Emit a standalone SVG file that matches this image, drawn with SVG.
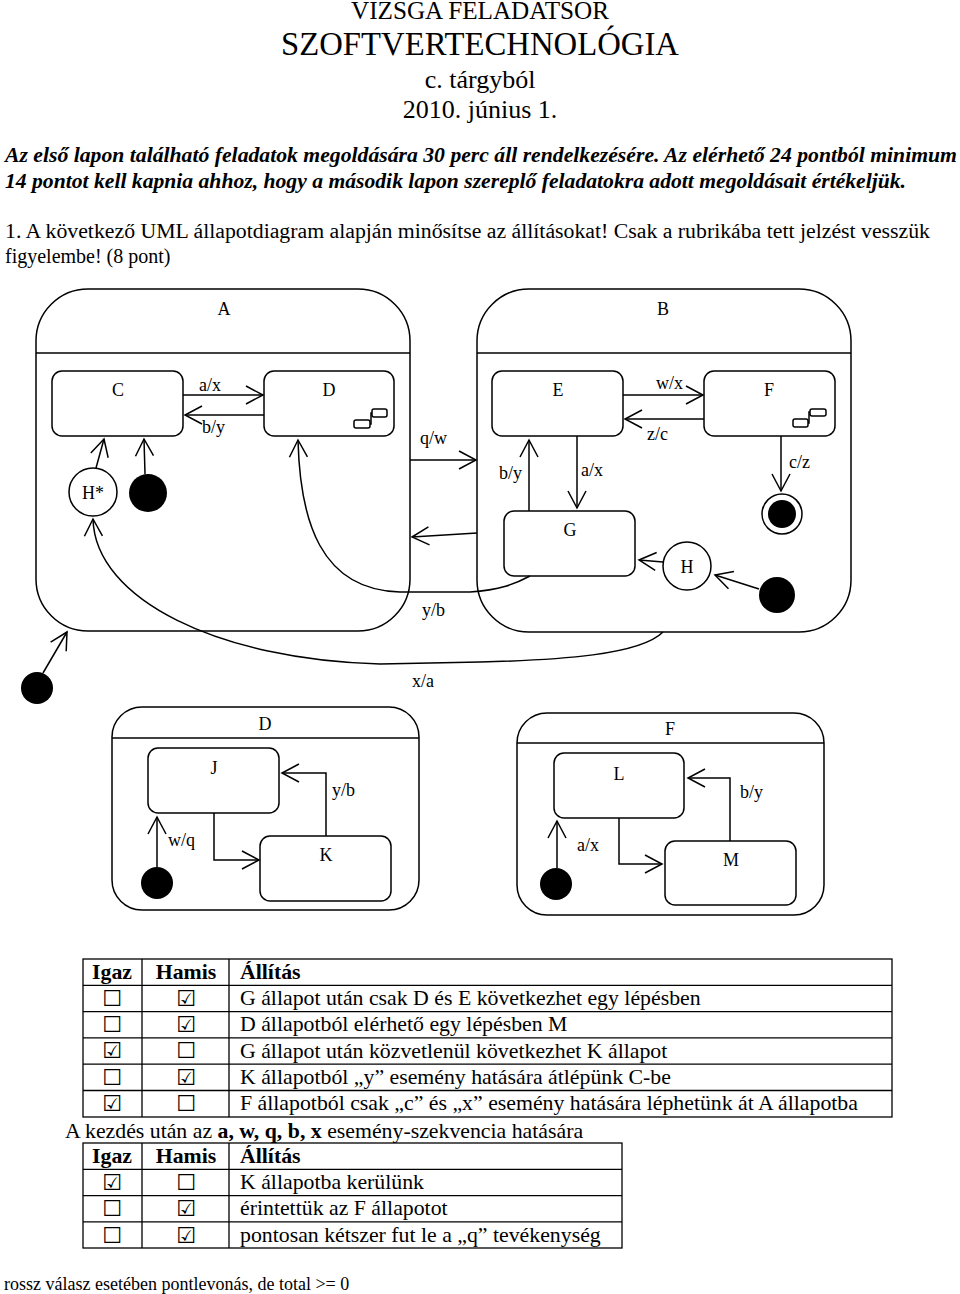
<svg xmlns="http://www.w3.org/2000/svg" width="960" height="1294" viewBox="0 0 960 1294">
<style>
text{font-family:"Liberation Serif","Times New Roman",serif;fill:#000}
.h{text-anchor:middle}
.lb{font-size:18px}
.nm{font-size:18px;text-anchor:middle}
.st{fill:#fff;stroke:#000;stroke-width:1.5}
.ln{fill:none;stroke:#000;stroke-width:1.5}
.dot{fill:#000}
.cn{fill:none;stroke:#000;stroke-width:1.5;marker-end:url(#arr)}
.tb{fill:none;stroke:#000;stroke-width:1.3}
.tt{font-size:21.8px}
.bd{font-weight:bold}
.cb{font-family:"DejaVu Sans",sans-serif;font-size:22px;text-anchor:middle}
</style>
<defs>
<marker id="arr" markerUnits="userSpaceOnUse" markerWidth="22" markerHeight="22" refX="18" refY="9" orient="auto" overflow="visible">
<path d="M1,0 L18,9 L1,18" fill="none" stroke="#000" stroke-width="1.5"/>
</marker>
</defs>
<rect width="960" height="1294" fill="#fff"/>

<g id="header">
<text class="h" x="480" y="19" font-size="25" textLength="258" lengthAdjust="spacingAndGlyphs">VIZSGA FELADATSOR</text>
<text class="h" x="480" y="55" font-size="33" textLength="398" lengthAdjust="spacingAndGlyphs">SZOFTVERTECHNOLÓGIA</text>
<text class="h" x="480" y="88" font-size="26">c. tárgyból</text>
<text class="h" x="480" y="118" font-size="26">2010. június 1.</text>
<text x="5" y="162" font-size="20" font-weight="bold" font-style="italic" textLength="952" lengthAdjust="spacingAndGlyphs">Az első lapon található feladatok megoldására 30 perc áll rendelkezésére. Az elérhető 24 pontból minimum</text>
<text x="5" y="188" font-size="20" font-weight="bold" font-style="italic" textLength="901" lengthAdjust="spacingAndGlyphs">14 pontot kell kapnia ahhoz, hogy a második lapon szereplő feladatokra adott megoldásait értékeljük.</text>
<text x="5" y="238" font-size="20" textLength="925" lengthAdjust="spacingAndGlyphs">1. A következő UML állapotdiagram alapján minősítse az állításokat! Csak a rubrikába tett jelzést vesszük</text>
<text x="5" y="263" font-size="20">figyelembe! (8 pont)</text>
</g>

<g id="state-A">
<rect class="st" x="36" y="289" width="374" height="342" rx="52"/>
<line class="ln" x1="36" y1="353" x2="410" y2="353"/>
<text class="nm" x="224" y="315">A</text>
</g>
<g id="state-B">
<rect class="st" x="477" y="289" width="374" height="343" rx="52"/>
<line class="ln" x1="477" y1="353" x2="851" y2="353"/>
<text class="nm" x="663" y="315">B</text>
</g>
<g id="state-C">
<rect class="st" x="52" y="371" width="131" height="65" rx="10"/>
<text class="nm" x="118" y="396">C</text>
</g>
<g id="state-D">
<rect class="st" x="264" y="371" width="130" height="65" rx="10"/>
<text class="nm" x="329" y="396">D</text>
<rect class="ln" x="354" y="420" width="16" height="8" rx="2"/>
<rect class="ln" x="372" y="409" width="15" height="8" rx="2"/>
<path class="ln" d="M370,424 H371 V413 H372"/>
</g>
<g id="history-A">
<circle class="st" cx="93" cy="492" r="24"/>
<text class="nm" x="93" y="499">H*</text>
</g>
<g id="initial-A">
<circle class="dot" cx="148" cy="493" r="19"/>
</g>
<g id="state-E">
<rect class="st" x="492" y="371" width="131" height="65" rx="10"/>
<text class="nm" x="558" y="396">E</text>
</g>
<g id="state-F">
<rect class="st" x="704" y="371" width="131" height="65" rx="10"/>
<text class="nm" x="769" y="396">F</text>
<rect class="ln" x="793" y="419" width="15" height="8" rx="2"/>
<rect class="ln" x="810" y="409" width="16" height="7" rx="2"/>
<path class="ln" d="M808,423 H809 V412 H810"/>
</g>
<g id="state-G">
<rect class="st" x="504" y="511" width="131" height="65" rx="10"/>
<text class="nm" x="570" y="536">G</text>
</g>
<g id="history-B">
<circle class="st" cx="687" cy="566" r="24"/>
<text class="nm" x="687" y="573">H</text>
</g>
<g id="initial-B">
<circle class="dot" cx="777" cy="595" r="18"/>
</g>
<g id="final-B">
<circle class="st" cx="782" cy="514" r="20"/>
<circle class="dot" cx="782" cy="514" r="14"/>
</g>
<g id="initial-top">
<circle class="dot" cx="37" cy="688" r="16"/>
</g>

<g id="composite-D">
<rect class="st" x="112" y="707" width="307" height="203" rx="30"/>
<line class="ln" x1="112" y1="738" x2="419" y2="738"/>
<text class="nm" x="265" y="730">D</text>
</g>
<g id="state-J">
<rect class="st" x="148" y="748" width="131" height="65" rx="10"/>
<text class="nm" x="214" y="774">J</text>
</g>
<g id="state-K">
<rect class="st" x="260" y="836" width="131" height="65" rx="10"/>
<text class="nm" x="326" y="861">K</text>
</g>
<g id="initial-D">
<circle class="dot" cx="157" cy="883" r="16"/>
</g>
<g id="composite-F">
<rect class="st" x="517" y="713" width="307" height="202" rx="30"/>
<line class="ln" x1="517" y1="743" x2="824" y2="743"/>
<text class="nm" x="670" y="735">F</text>
</g>
<g id="state-L">
<rect class="st" x="554" y="753" width="130" height="65" rx="10"/>
<text class="nm" x="619" y="780">L</text>
</g>
<g id="state-M">
<rect class="st" x="665" y="841" width="131" height="64" rx="10"/>
<text class="nm" x="731" y="866">M</text>
</g>
<g id="initial-F">
<circle class="dot" cx="556" cy="884" r="16"/>
</g>

<g id="connectors">
<path class="cn" d="M183,395 H263"/>
<path class="cn" d="M264,415 H185"/>
<path class="cn" d="M96,468 L104,439"/>
<path class="cn" d="M145,474 L144,439"/>
<path class="cn" d="M530,576 C515,584 500,590 470,592 L400,592 C320,590 300,520 298,440"/>
<path class="cn" d="M410,460 H476"/>
<path class="cn" d="M477,533 L412,537"/>
<path class="cn" d="M623,395 H703"/>
<path class="cn" d="M704,419 H625"/>
<path class="cn" d="M577,436 V508"/>
<path class="cn" d="M529,511 V440"/>
<path class="cn" d="M663,562 L639,560"/>
<path class="cn" d="M759,589 L715,575"/>
<path class="cn" d="M781,436 V491"/>
<path class="cn" d="M663,632 C640,655 560,660 480,662 L380,664 C220,660 95,600 93,519"/>
<path class="cn" d="M43,673 L67,632"/>
<path class="cn" d="M214,813 V860 H259"/>
<path class="cn" d="M326,836 V773 H282"/>
<path class="cn" d="M157,867 V817"/>
<path class="cn" d="M619,818 V864 H662"/>
<path class="cn" d="M730,841 V778 H688"/>
<path class="cn" d="M557,868 V821"/>
<text class="lb" x="199" y="391">a/x</text>
<text class="lb" x="202" y="433">b/y</text>
<text class="lb" x="420" y="444">q/w</text>
<text class="lb" x="656" y="389">w/x</text>
<text class="lb" x="647" y="440">z/c</text>
<text class="lb" x="581" y="476">a/x</text>
<text class="lb" x="499" y="479">b/y</text>
<text class="lb" x="789" y="468">c/z</text>
<text class="lb" x="422" y="616">y/b</text>
<text class="lb" x="412" y="687">x/a</text>
<text class="lb" x="332" y="796">y/b</text>
<text class="lb" x="168" y="846">w/q</text>
<text class="lb" x="740" y="798">b/y</text>
<text class="lb" x="577" y="851">a/x</text>
</g>

<g id="table1">
<rect class="tb" x="83" y="959" width="809" height="158"/>
<path class="tb" d="M142,959 V1117 M229,959 V1117 M83,985.3 H892 M83,1011.6 H892 M83,1037.9 H892 M83,1064.2 H892 M83,1090.5 H892"/>
<text class="tt bd h" x="112" y="979">Igaz</text>
<text class="tt bd h" x="186" y="979">Hamis</text>
<text class="tt bd" x="240" y="979">Állítás</text>
<text class="cb" x="112" y="1006">☐</text><text class="cb" x="186" y="1006">☑</text>
<text class="tt" x="240" y="1005">G állapot után csak D és E következhet egy lépésben</text>
<text class="cb" x="112" y="1032">☐</text><text class="cb" x="186" y="1032">☑</text>
<text class="tt" x="240" y="1031">D állapotból elérhető egy lépésben M</text>
<text class="cb" x="112" y="1058">☑</text><text class="cb" x="186" y="1058">☐</text>
<text class="tt" x="240" y="1058">G állapot után közvetlenül következhet K állapot</text>
<text class="cb" x="112" y="1085">☐</text><text class="cb" x="186" y="1085">☑</text>
<text class="tt" x="240" y="1084">K állapotból „y” esemény hatására átlépünk C-be</text>
<text class="cb" x="112" y="1111">☑</text><text class="cb" x="186" y="1111">☐</text>
<text class="tt" x="240" y="1110">F állapotból csak „c” és „x” esemény hatására léphetünk át A állapotba</text>
</g>

<text class="tt" x="65" y="1138">A kezdés után az <tspan class="bd">a, w, q, b, x</tspan> esemény-szekvencia hatására</text>

<g id="table2">
<rect class="tb" x="83" y="1143" width="539" height="105"/>
<path class="tb" d="M142,1143 V1248 M229,1143 V1248 M83,1169.3 H622 M83,1195.6 H622 M83,1221.9 H622"/>
<text class="tt bd h" x="112" y="1163">Igaz</text>
<text class="tt bd h" x="186" y="1163">Hamis</text>
<text class="tt bd" x="240" y="1163">Állítás</text>
<text class="cb" x="112" y="1190">☑</text><text class="cb" x="186" y="1190">☐</text>
<text class="tt" x="240" y="1189">K állapotba kerülünk</text>
<text class="cb" x="112" y="1216">☐</text><text class="cb" x="186" y="1216">☑</text>
<text class="tt" x="240" y="1215">érintettük az F állapotot</text>
<text class="cb" x="112" y="1243">☐</text><text class="cb" x="186" y="1243">☑</text>
<text class="tt" x="240" y="1242">pontosan kétszer fut le a „q” tevékenység</text>
</g>

<text x="4" y="1290" font-size="18">rossz válasz esetében pontlevonás, de total &gt;= 0</text>
</svg>
